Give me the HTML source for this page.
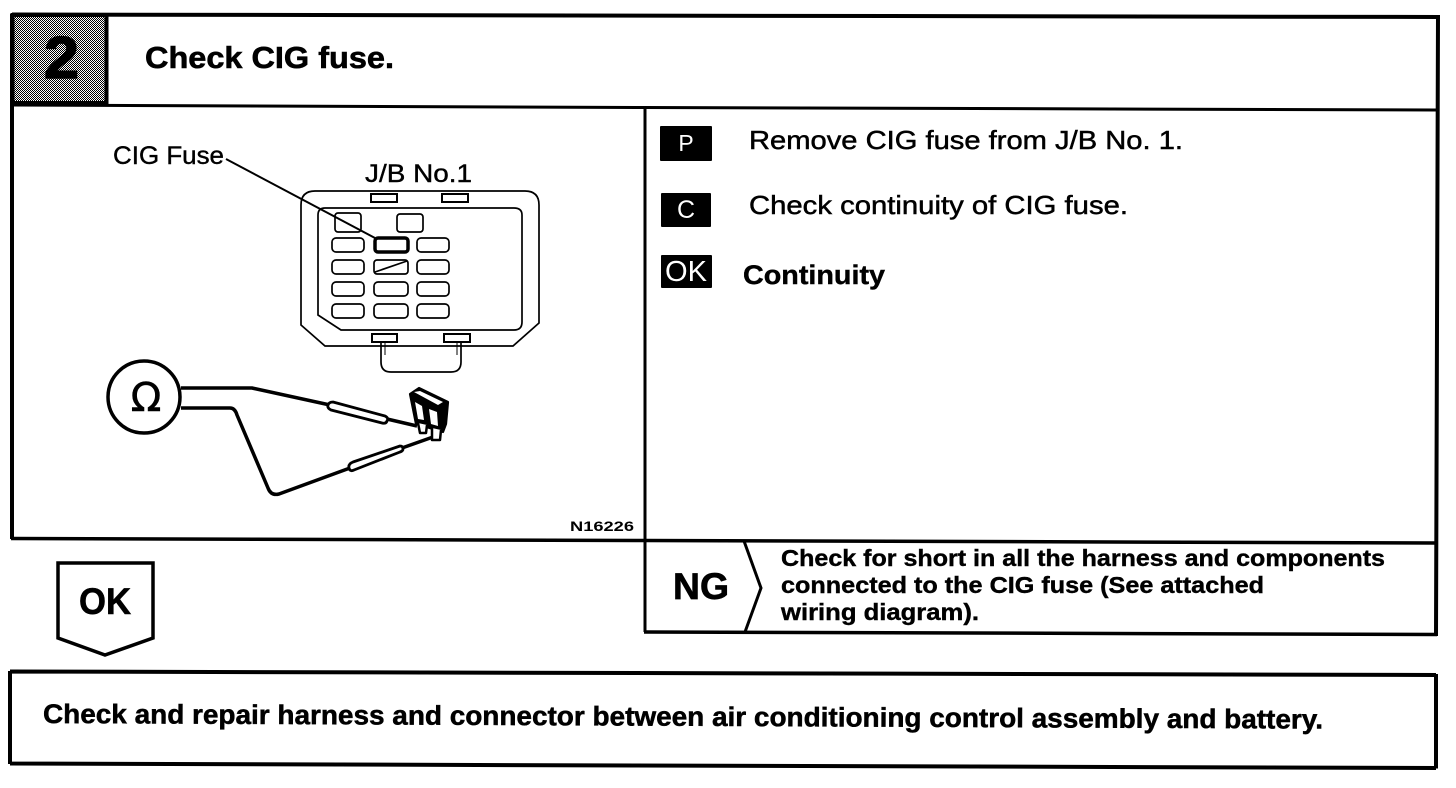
<!DOCTYPE html>
<html><head><meta charset="utf-8"><style>
html,body{margin:0;padding:0;background:#fff}
svg{display:block}
text{font-family:"Liberation Sans",sans-serif;fill:#000}
.b{font-weight:bold}
</style></head><body>
<svg width="1456" height="788" viewBox="0 0 1456 788" xmlns="http://www.w3.org/2000/svg">
<defs><pattern id="d" width="2" height="2" patternUnits="userSpaceOnUse"><rect width="2" height="2" fill="#fff"/><rect width="1" height="1" fill="#000"/><rect x="1" y="1" width="1" height="1" fill="#000"/></pattern></defs>
<rect width="1456" height="788" fill="#fff"/>
<!-- frame -->
<g fill="none" stroke="#000" stroke-width="3.5">
<path d="M12 14.5L1438 17M1438 15L1436 636M12 14V539" stroke-width="4"/>
<path d="M11 538.5L645 540.5L1436 543" stroke-width="3.5"/>
<path d="M12 105L645 107.5L1436 110" stroke-width="3"/>
<path d="M645 107V632" stroke-width="3"/>
<path d="M644 632L1437 634.5" stroke-width="3.5"/>
<path d="M744 541L761 588L745 632" stroke-width="3"/>
<path d="M10 671.5L1436 675M1436 674V768.5M1436 768L10 763.5M10 764V671" stroke-width="4"/>
<path d="M58 563H153V638L105 655L58 638Z" stroke-width="3.5"/>
</g>
<rect x="14" y="16" width="92" height="87" fill="url(#d)"/>
<path d="M12.500 15H106.500V103H12.500Z" fill="none" stroke="#000" stroke-width="4"/>
<text class="b" x="44" y="78" font-size="59" textLength="35" lengthAdjust="spacingAndGlyphs" stroke="#000" stroke-width="1.5">2</text>
<text class="b" x="145" y="68" font-size="31" textLength="249" lengthAdjust="spacingAndGlyphs" stroke="#000" stroke-width=".6">Check CIG fuse.</text>

<!-- J/B diagram -->
<text x="113" y="164" font-size="25" textLength="111" lengthAdjust="spacingAndGlyphs" stroke="#000" stroke-width=".4">CIG Fuse</text>
<text x="365" y="182" font-size="25" textLength="107" lengthAdjust="spacingAndGlyphs" stroke="#000" stroke-width=".4">J/B No.1</text>
<g fill="none" stroke="#000" stroke-width="1.7">
<path d="M301 205Q301 191 315 191H525Q539 191 539 205V323L513 346H325L301 325Z"/>
<path d="M318 215Q318 208 325 208H514Q522 208 522 215V322Q522 330 514 330H341L318 315Z"/>
<rect x="371" y="194" width="26" height="8" fill="#fff" stroke-width="2"/><rect x="442" y="194" width="26" height="8" fill="#fff" stroke-width="2"/>
<rect x="372" y="334" width="25" height="8" fill="#fff" stroke-width="2"/><rect x="444" y="334" width="26" height="8" fill="#fff" stroke-width="2"/>
<path d="M381 343V362Q381 372 391 372H451Q461 372 461 362V343"/>
<path d="M385 343V355M457 343V355" stroke-width="1"/>
<rect x="335" y="213" width="26" height="19" rx="3"/><rect x="397" y="214" width="26" height="18" rx="3"/>
<rect x="332" y="238" width="32" height="14" rx="4"/><rect x="417" y="238" width="32" height="14" rx="4"/>
<rect x="332" y="260" width="32" height="14" rx="4"/><rect x="374" y="260" width="34" height="14" rx="3"/><rect x="417" y="260" width="32" height="14" rx="4"/>
<rect x="332" y="282" width="32" height="14" rx="4"/><rect x="374" y="282" width="34" height="14" rx="4"/><rect x="417" y="282" width="32" height="14" rx="4"/>
<rect x="332" y="304" width="32" height="14" rx="4"/><rect x="374" y="304" width="34" height="14" rx="4"/><rect x="417" y="304" width="32" height="14" rx="4"/>
<path d="M375 272L407 261"/>
<rect x="375" y="238" width="33" height="14" rx="3" stroke-width="3.5"/>
<path d="M226 159L375 238" stroke-width="2"/>
</g>
<!-- meter -->
<circle cx="144" cy="397" r="36" fill="none" stroke="#000" stroke-width="3.5"/>
<text x="146" y="411" font-size="40" text-anchor="middle" style="font-family:'DejaVu Sans',sans-serif" stroke="#000" stroke-width=".6">Ω</text>
<g fill="none" stroke="#000" stroke-linejoin="round">
<path d="M181 388H252L330 405" stroke-width="3.500"/>
<path d="M181 408H230Q235 408 237 415L268 488Q271 496 279 494L350 468" stroke-width="3.5"/>
<path d="M333 402L385 416Q389 418 387 421Q386 424 382 423L331 410Q327 408 328 405Q329 402 333 402Z" fill="#fff" stroke-width="2.800"/>
<path d="M353 462L400 446Q403 446 403 449Q403 451 400 452L354 470Q350 472 349 468Q348 464 353 462Z" fill="#fff" stroke-width="2.800"/>
<path d="M387 419L417 426M402 448L433 437" stroke-width="3.5"/>
<path d="M410 394L419 388L448 402L446 424L443 432L416 424Z" fill="#000" stroke-width="2.200"/>
<path d="M414 392L420 391L443 402L438 405Z" fill="#fff" stroke="none"/>
<path d="M415 402L422 406L424 420L418 419ZM429 409L437 412L438 426L431 424Z" fill="#fff" stroke="none"/>
<path d="M418 423L420 433H426L427 425M432 428L432 440H440L441 430" fill="#fff" stroke-width="2.500"/>
</g>
<text class="b" x="570" y="531" font-size="14" textLength="64" lengthAdjust="spacingAndGlyphs">N16226</text>

<!-- right panel -->
<rect x="660" y="126" width="52" height="35" rx="1"/>
<rect x="661" y="193" width="50" height="34" rx="1"/>
<rect x="661" y="255" width="51" height="33" rx="1"/>
<text x="686" y="151" font-size="23" text-anchor="middle" style="fill:#fff">P</text>
<text x="686" y="218" font-size="25" text-anchor="middle" style="fill:#fff">C</text>
<text x="665" y="281" font-size="29" textLength="42" lengthAdjust="spacingAndGlyphs" style="fill:#fff">OK</text>
<text x="749" y="149" font-size="26" textLength="434" lengthAdjust="spacingAndGlyphs" stroke="#000" stroke-width=".5">Remove CIG fuse from J/B No. 1.</text>
<text x="749" y="214" font-size="26" textLength="379" lengthAdjust="spacingAndGlyphs" stroke="#000" stroke-width=".5">Check continuity of CIG fuse.</text>
<text class="b" x="743" y="284" font-size="27" textLength="142" lengthAdjust="spacingAndGlyphs" stroke="#000" stroke-width=".4">Continuity</text>

<!-- NG -->
<text class="b" x="673" y="599" font-size="37" textLength="56" lengthAdjust="spacingAndGlyphs" stroke="#000" stroke-width=".7">NG</text>
<text class="b" x="781" y="566" font-size="23" textLength="604" lengthAdjust="spacingAndGlyphs" stroke="#000" stroke-width=".4">Check for short in all the harness and components</text>
<text class="b" x="781" y="593" font-size="23" textLength="483" lengthAdjust="spacingAndGlyphs" stroke="#000" stroke-width=".4">connected to the CIG fuse (See attached</text>
<text class="b" x="781" y="620" font-size="23" textLength="198" lengthAdjust="spacingAndGlyphs" stroke="#000" stroke-width=".4">wiring diagram).</text>

<!-- OK -->
<text class="b" x="79" y="614" font-size="37" textLength="52" lengthAdjust="spacingAndGlyphs" stroke="#000" stroke-width=".6">OK</text>

<!-- bottom -->
<text class="b" x="43" y="723" font-size="27" textLength="1280" lengthAdjust="spacingAndGlyphs" transform="rotate(.25 43 723)" stroke="#000" stroke-width=".5">Check and repair harness and connector between air conditioning control assembly and battery.</text>
</svg>
</body></html>
